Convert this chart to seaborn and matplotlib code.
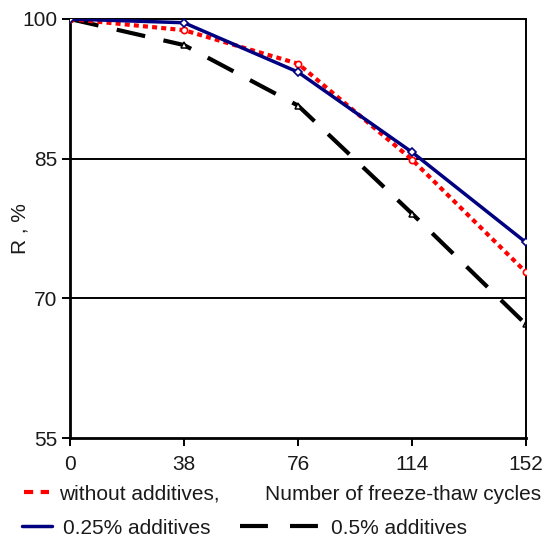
import numpy as np
import pandas as pd
import seaborn as sns
import matplotlib.pyplot as plt
from matplotlib.lines import Line2D

# Values
cycles = [0, 38, 76, 114, 152]
without_additives = [100, 98.8, 95.2, 84.9, 72.8]
additives_025 = [100, 99.6, 94.3, 85.7, 76.0]
additives_05 = [100, 97.2, 90.7, 79.1, 67.2]
y_ticks = [55, 70, 85, 100]

sns.set_style("white")
plt.rcParams['font.family'] = ['Liberation Sans', 'DejaVu Sans']
FS = 15
TXT = '#1a1a1a'

fig = plt.figure(figsize=(5.43, 5.43), dpi=100)
ax = fig.add_axes([70 / 543, 1 - 438 / 543, 456 / 543, 419 / 543])

# horizontal reference lines
for v in [70, 85]:
    ax.axhline(v, color='black', lw=1.4, zorder=1)

sns.lineplot(x=cycles, y=without_additives, ax=ax, color='red', lw=3,
             linestyle=(0, (1.2, 1.0)), marker='o', markersize=4.5,
             markerfacecolor='white', markeredgecolor='red', markeredgewidth=1.2, zorder=3)
sns.lineplot(x=cycles, y=additives_025, ax=ax, color='#000080', lw=2.5,
             marker='D', markersize=4, markerfacecolor='white',
             markeredgecolor='#000080', markeredgewidth=1.2, zorder=4)
sns.lineplot(x=cycles, y=additives_05, ax=ax, color='black', lw=3,
             linestyle=(0, (7, 4.5)), marker='^', markersize=5,
             markerfacecolor='white', markeredgecolor='black', markeredgewidth=1.1, zorder=2)

ax.set_xlim(0, 152)
ax.set_ylim(55, 100)
ax.set_xticks(cycles)
ax.set_yticks(y_ticks)
ax.tick_params(axis='both', direction='out', length=6, width=1.4, labelsize=FS,
               color='black', labelcolor=TXT, bottom=True, left=True)
ax.tick_params(axis='x', pad=6)
ax.tick_params(axis='y', pad=3)
for s in ax.spines.values():
    s.set_color('black')
    s.set_linewidth(1.4)
ax.spines['left'].set_linewidth(2)
ax.spines['bottom'].set_linewidth(2)

ax.set_ylabel('R , %', fontsize=FS, color=TXT)
ax.yaxis.set_label_coords(-0.088, 0.5)
ax.set_xlabel('')
fig.text(541 / 543, 1 - 494 / 543, 'Number of freeze-thaw cycles', fontsize=FS,
         ha='right', va='center', color=TXT)

# legend entries placed one by one, like the reference layout
entries = [
    (Line2D([], [], color='red', lw=3, linestyle=(0, (2.2, 1.8))), 'without additives,',
     24, 494, 1.2),
    (Line2D([], [], color='#000080', lw=2.5), '0.25% additives', 22, 528, 1.45),
    (Line2D([], [], color='black', lw=3, linestyle=(0, (6.7, 5.3))), '0.5% additives',
     240, 528, 3.85),
]
for h, lab, px, py, hl in entries:
    leg = fig.legend([h], [lab], loc='center left', bbox_to_anchor=(px / 543, 1 - py / 543),
                     frameon=False, fontsize=FS, handlelength=hl, handletextpad=0.5,
                     borderpad=0, borderaxespad=0)
    for t in leg.get_texts():
        t.set_color(TXT)

plt.savefig('out.png', dpi=100)
